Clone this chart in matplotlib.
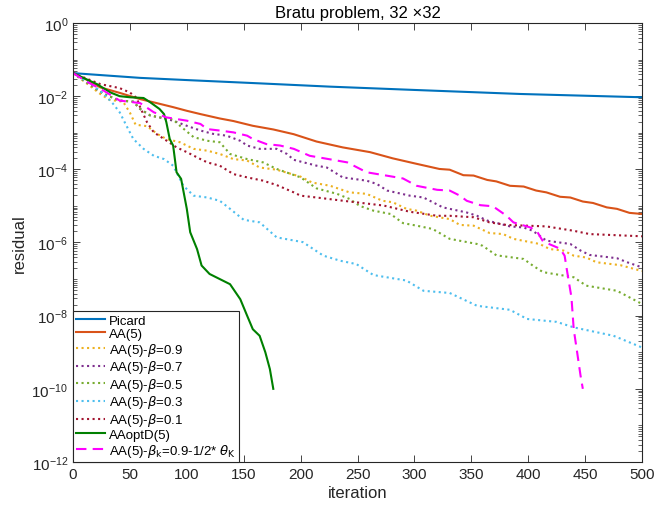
import numpy as np
import matplotlib
matplotlib.use("Agg")
import matplotlib.pyplot as plt
from matplotlib.ticker import LogLocator, NullFormatter

plt.rcParams["font.family"] = ["Liberation Sans", "DejaVu Sans"]
plt.rcParams["font.size"] = 10
plt.rcParams["mathtext.fontset"] = "dejavusans"

#=== data: iteration, log10(residual) ===#
picard_it = [0, 59, 100, 164, 226, 300, 393, 500]
picard_lg = [-1.37, -1.50, -1.56, -1.65, -1.74, -1.83, -1.94, -2.03]

aa5_it = [0, 12, 24, 41, 59, 71, 88, 100, 112, 129, 141, 158, 176, 194, 214, 237, 261, 281, 302,
          322, 331, 343, 352, 364, 372, 384, 396, 407, 416, 428, 437, 448, 457, 469, 478, 489, 500]
aa5_lg = [-1.37, -1.55, -1.76, -1.91, -2.08, -2.17, -2.30, -2.40, -2.49, -2.61, -2.68, -2.81, -2.91,
          -3.04, -3.24, -3.40, -3.53, -3.70, -3.85, -3.99, -4.01, -4.16, -4.17, -4.29, -4.33, -4.45,
          -4.47, -4.58, -4.63, -4.75, -4.77, -4.88, -4.92, -5.04, -5.08, -5.19, -5.22]

b09_it = [0, 12, 24, 32, 44, 50, 55, 65, 74, 82, 94, 106, 118, 129, 141, 153, 164, 179, 200, 210,
          226, 243, 258, 272, 281, 293, 302, 314, 331, 340, 352, 366, 378, 387, 410, 419, 431, 440,
          451, 460, 481, 500]
b09_lg = [-1.37, -1.65, -1.94, -2.10, -2.15, -2.45, -2.78, -2.82, -3.03, -3.17, -3.26, -3.44, -3.49,
          -3.58, -3.72, -3.76, -3.95, -4.01, -4.20, -4.36, -4.45, -4.63, -4.67, -4.86, -4.90, -5.08,
          -5.13, -5.27, -5.36, -5.52, -5.54, -5.74, -5.77, -5.90, -6.04, -6.18, -6.22, -6.36, -6.41,
          -6.54, -6.62, -6.78]

b07_it = [0, 12, 27, 41, 53, 59, 68, 76, 88, 100, 112, 123, 135, 147, 153, 164, 179, 188, 194, 214,
          223, 237, 258, 267, 276, 296, 308, 325, 346, 355, 364, 384, 396, 404, 416, 437, 446, 454,
          478, 487, 500]
b07_lg = [-1.37, -1.62, -1.94, -2.12, -2.15, -2.35, -2.53, -2.58, -2.67, -2.81, -2.94, -3.03, -3.08,
          -3.22, -3.35, -3.44, -3.44, -3.58, -3.74, -3.90, -3.95, -4.22, -4.31, -4.40, -4.58, -4.72,
          -4.77, -5.04, -5.18, -5.27, -5.40, -5.56, -5.59, -5.68, -5.95, -6.04, -6.22, -6.34, -6.43,
          -6.54, -6.68]

b05_it = [0, 12, 27, 41, 53, 59, 68, 76, 82, 88, 94, 106, 118, 129, 138, 153, 167, 179, 200, 214,
          232, 243, 252, 264, 279, 290, 302, 316, 331, 355, 360, 372, 396, 404, 413, 440, 451, 478, 500]
b05_lg = [-1.37, -1.62, -1.94, -2.12, -2.15, -2.35, -2.53, -2.58, -2.60, -2.64, -2.81, -3.12, -3.22,
          -3.26, -3.58, -3.72, -3.81, -3.99, -4.22, -4.52, -4.67, -4.81, -5.00, -5.13, -5.22, -5.47,
          -5.54, -5.63, -5.90, -6.04, -6.09, -6.35, -6.45, -6.63, -6.81, -6.95, -7.18, -7.32, -7.68]

b03_it = [0, 18, 27, 35, 41, 47, 53, 62, 71, 80, 88, 97, 106, 118, 129, 138, 150, 164, 179, 202,
          220, 235, 249, 264, 293, 308, 331, 355, 384, 399, 425, 440, 475, 500]
b03_lg = [-1.37, -1.71, -1.94, -2.20, -2.44, -2.81, -3.17, -3.44, -3.63, -3.72, -3.90, -4.45, -4.72,
          -4.77, -4.86, -5.08, -5.38, -5.45, -5.86, -5.99, -6.36, -6.50, -6.59, -6.89, -7.04, -7.32,
          -7.38, -7.73, -7.84, -8.09, -8.17, -8.32, -8.55, -8.87]

b01_it = [0, 24, 41, 50, 56, 59, 65, 71, 80, 91, 100, 112, 118, 129, 141, 153, 167, 179, 194, 200,
          214, 243, 273, 296, 320, 331, 352, 366, 381, 416, 440, 454, 500]
b01_lg = [-1.37, -1.67, -1.78, -1.90, -2.05, -2.30, -2.71, -2.99, -3.17, -3.40, -3.53, -3.72, -3.81,
          -3.90, -4.13, -4.22, -4.31, -4.43, -4.63, -4.72, -4.77, -4.88, -4.99, -5.16, -5.27, -5.27,
          -5.31, -5.45, -5.52, -5.56, -5.68, -5.77, -5.83]

optd_it = [0, 21, 33, 41, 50, 62, 68, 76, 80, 82, 85, 88, 91, 95, 100, 103, 109, 113, 120, 129,
           138, 147, 153, 158, 164, 169, 173, 176]
optd_lg = [-1.37, -1.67, -1.90, -2.00, -2.03, -2.05, -2.17, -2.35, -2.49, -2.71, -3.17, -3.35, -4.08,
           -4.26, -5.08, -5.72, -6.18, -6.63, -6.86, -7.00, -7.14, -7.55, -8.00, -8.37, -8.55, -9.00,
           -9.46, -10.0]

bk_it = [0, 12, 27, 41, 59, 71, 82, 100, 112, 118, 129, 141, 153, 158, 170, 182, 194, 208, 232,
         241, 258, 279, 290, 302, 320, 331, 340, 346, 358, 369, 381, 387, 402, 408, 413, 422, 428,
         432, 434, 438, 440, 443, 446, 448]
bk_lg = [-1.37, -1.60, -1.85, -2.12, -2.19, -2.44, -2.58, -2.67, -2.76, -2.90, -2.94, -2.99, -3.08,
         -3.17, -3.31, -3.35, -3.44, -3.63, -3.76, -3.81, -4.08, -4.19, -4.25, -4.45, -4.56, -4.58,
         -4.72, -4.86, -4.98, -5.01, -5.27, -5.45, -5.59, -5.71, -5.97, -6.09, -6.17, -6.36, -6.75,
         -7.50, -8.37, -9.00, -9.64, -10.0]
#================================================#

fig = plt.figure(figsize=(6.54, 5.06), dpi=100)
ax = fig.add_axes([73/654, 1-463/506, (642-73)/654, (463-24)/506])

lw = 1.5
ax.plot(picard_it, 10.0**np.array(picard_lg), color="#0072BD", lw=lw, label="Picard")
ax.plot(aa5_it, 10.0**np.array(aa5_lg), color="#D95319", lw=lw, label="AA(5)")
ax.plot(b09_it, 10.0**np.array(b09_lg), color="#EDB120", lw=lw, ls=":", label=r"AA(5)-$\beta$=0.9")
ax.plot(b07_it, 10.0**np.array(b07_lg), color="#7E2F8E", lw=lw, ls=":", label=r"AA(5)-$\beta$=0.7")
ax.plot(b05_it, 10.0**np.array(b05_lg), color="#77AC30", lw=lw, ls=":", label=r"AA(5)-$\beta$=0.5")
ax.plot(b03_it, 10.0**np.array(b03_lg), color="#4DBEEE", lw=lw, ls=":", label=r"AA(5)-$\beta$=0.3")
ax.plot(b01_it, 10.0**np.array(b01_lg), color="#A2142F", lw=lw, ls=":", label=r"AA(5)-$\beta$=0.1")
ax.plot(optd_it, 10.0**np.array(optd_lg), color="#008000", lw=lw, label="AAoptD(5)")
ax.plot(bk_it, 10.0**np.array(bk_lg), color="#FF00FF", lw=lw, ls=(0, (5, 3)),
        label=r"AA(5)-$\beta_{\rm k}$=0.9-1/2* $\theta_{\rm K}$")

ax.set_yscale("log")
ax.set_xlim(0, 500)
ax.set_ylim(1e-12, 1)
ax.set_xticks(np.arange(0, 501, 50))
ax.set_yticks([1e-12, 1e-10, 1e-8, 1e-6, 1e-4, 1e-2, 1])
ax.yaxis.set_minor_locator(LogLocator(base=10, subs=np.arange(1, 10), numticks=30))
ax.yaxis.set_minor_formatter(NullFormatter())

ax.tick_params(which="both", direction="in", top=True, right=True, colors="#262626", labelsize=11)
ax.tick_params(which="major", length=5, width=0.6)
ax.tick_params(which="minor", length=3, width=0.5)
for s in ax.spines.values():
    s.set_color("#262626")
    s.set_linewidth(0.8)

ax.set_xlabel("iteration", fontsize=12, color="#262626", labelpad=3)
ax.set_ylabel("residual", fontsize=12, color="#262626", labelpad=3)
ax.set_title("Bratu problem, 32 \u00d732", fontsize=12, pad=4)

leg = ax.legend(loc="lower left", borderaxespad=0, fancybox=False, edgecolor="#262626",
                framealpha=1, fontsize=9.5, labelspacing=0.05, handlelength=2.2,
                handletextpad=0.3, borderpad=0.25)
leg.get_frame().set_linewidth(0.8)

fig.savefig("out.png", dpi=100)
